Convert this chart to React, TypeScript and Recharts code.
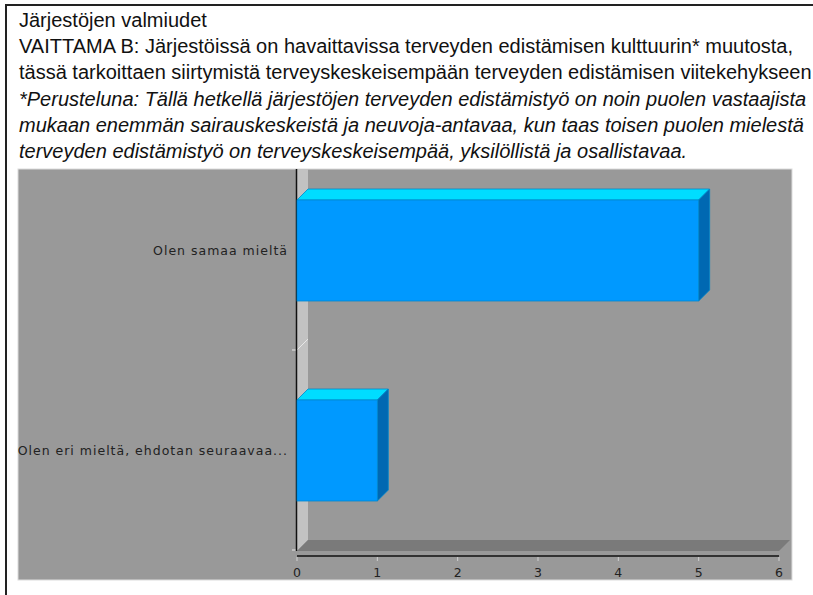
import { BarChart, Bar, XAxis, YAxis } from 'recharts';

const categories = ['Olen samaa mieltä', 'Olen eri mieltä, ehdotan seuraavaa...'];
const counts = [5, 1];
const xTicks = [0, 1, 2, 3, 4, 5, 6];

const titleLines = [
  'Järjestöjen valmiudet',
  'VAITTAMA B: Järjestöissä on havaittavissa terveyden edistämisen kulttuurin* muutosta,',
  'tässä tarkoittaen siirtymistä terveyskeskeisempään terveyden edistämisen viitekehykseen',
];
const noteLines = [
  '*Perusteluna: Tällä hetkellä järjestöjen terveyden edistämistyö on noin puolen vastaajista',
  'mukaan enemmän sairauskeskeistä ja neuvoja-antavaa, kun taas toisen puolen mielestä',
  'terveyden edistämistyö on terveyskeskeisempää, yksilöllistä ja osallistavaa.',
];

const data = categories.map((name, i) => ({ name, value: counts[i] }));

// layout (px)
const W = 813;
const H = 595;
const PLOT_LEFT = 297;
const PLOT_RIGHT = 779;
const PLOT_TOP = 150;
const AXIS_Y = 556;
const BAND_BOTTOM = 550;
const DEPTH = 11;
const PANEL = { left: 18, top: 169, right: 792, bottom: 580 };

const Bar3D = (props: any) => {
  const { x, y, width, height } = props;
  const d = DEPTH;
  return (
    <g>
      <polygon
        points={`${x},${y} ${x + d},${y - d} ${x + width + d},${y - d} ${x + width},${y}`}
        fill="#00DDFF"
        stroke="#0088CC"
        strokeWidth={0.8}
      />
      <polygon
        points={`${x + width},${y} ${x + width + d},${y - d} ${x + width + d},${y + height - d} ${x + width},${y + height}`}
        fill="#0068B2"
        stroke="#0088CC"
        strokeWidth={0.8}
      />
      <rect x={x} y={y} width={width} height={height} fill="#0099FF" stroke="#0088CC" strokeWidth={0.8} />
    </g>
  );
};

const XTick = (props: any) => {
  const { x, y, payload } = props;
  return (
    <g>
      <line x1={x} y1={y + 1} x2={x} y2={y + 5} stroke="#d0d0d0" strokeWidth={1} />
      <text x={x} y={y + 16} textAnchor="middle" dominantBaseline="central" fontSize={12.5}
        fontFamily="DejaVu Sans, sans-serif" fill="#222">
        {payload.value}
      </text>
    </g>
  );
};

const YTick = (props: any) => {
  const { x, y, payload } = props;
  return (
    <text x={x - 9} y={y} textAnchor="end" dominantBaseline="central" fontSize={12.5}
      letterSpacing={1} fontFamily="DejaVu Sans, sans-serif" fill="#222">
      {payload.value}
    </text>
  );
};

const Decor = () => {
  const d = DEPTH;
  const floorTop = BAND_BOTTOM - d + 1;
  const floorBottom = BAND_BOTTOM + 1;
  const mid = (PLOT_TOP + BAND_BOTTOM) / 2;
  return (
    <svg width={W} height={H} style={{ position: 'absolute', left: 0, top: 0 }}>
      <rect x={PANEL.left} y={PANEL.top} width={PANEL.right - PANEL.left} height={PANEL.bottom - PANEL.top}
        fill="#999999" stroke="#dcdcdc" strokeWidth={1} />
      <polygon
        points={`${PLOT_LEFT},${PANEL.top} ${PLOT_LEFT + d},${PANEL.top} ${PLOT_LEFT + d},${floorTop} ${PLOT_LEFT},${floorBottom}`}
        fill="#c2c2c2"
      />
      <polygon
        points={`${PLOT_LEFT},${floorBottom} ${PLOT_LEFT + d},${floorTop} ${PLOT_RIGHT + d},${floorTop} ${PLOT_RIGHT},${floorBottom}`}
        fill="#7a7a7a"
      />
      <line x1={PLOT_LEFT} y1={mid} x2={PLOT_LEFT + d} y2={mid - d} stroke="#e8e8e8" strokeWidth={1} />
      <line x1={PLOT_LEFT - 5} y1={mid} x2={PLOT_LEFT} y2={mid} stroke="#e8e8e8" strokeWidth={1} />
      <line x1={PLOT_LEFT - 5} y1={BAND_BOTTOM} x2={PLOT_LEFT} y2={BAND_BOTTOM} stroke="#e8e8e8" strokeWidth={1} />
      <line x1={PLOT_LEFT - 0.5} y1={PANEL.top} x2={PLOT_LEFT - 0.5} y2={floorBottom} stroke="#111" strokeWidth={1.5} />
    </svg>
  );
};

export default function App() {
  return (
    <div style={{ position: 'absolute', left: 0, top: 0, width: W, height: H, background: '#fff', overflow: 'hidden' }}>
      <div style={{ position: 'absolute', left: 5, top: 4, width: W, height: H, borderTop: '2px solid #222', borderLeft: '2px solid #222' }} />
      <div style={{ position: 'absolute', left: 19, top: 7, fontFamily: 'Liberation Sans, Arial, sans-serif', fontSize: 20, lineHeight: '26.2px', color: '#111', whiteSpace: 'nowrap' }}>
        {titleLines.map((t) => (
          <div key={t}>{t}</div>
        ))}
        {noteLines.map((t) => (
          <div key={t} style={{ fontStyle: 'italic' }}>{t}</div>
        ))}
      </div>
      <Decor />
      <div style={{ position: 'absolute', left: 0, top: 0 }}>
        <BarChart layout="vertical" width={W} height={H} data={data}
          margin={{ top: PLOT_TOP, right: W - PLOT_RIGHT, bottom: 0, left: 0 }}>
          <XAxis type="number" domain={[0, 6]} ticks={xTicks} height={H - AXIS_Y}
            axisLine={{ stroke: '#111', strokeWidth: 1.5 }} tickLine={false} tickSize={0} tickMargin={0}
            tick={<XTick />} interval={0} />
          <YAxis type="category" dataKey="name" width={PLOT_LEFT} axisLine={false} tickLine={false}
            tickSize={0} tickMargin={0} tick={<YTick />} padding={{ top: 0, bottom: AXIS_Y - BAND_BOTTOM }} />
          <Bar dataKey="value" barSize={101} shape={<Bar3D />} isAnimationActive={false} />
        </BarChart>
      </div>
    </div>
  );
}
